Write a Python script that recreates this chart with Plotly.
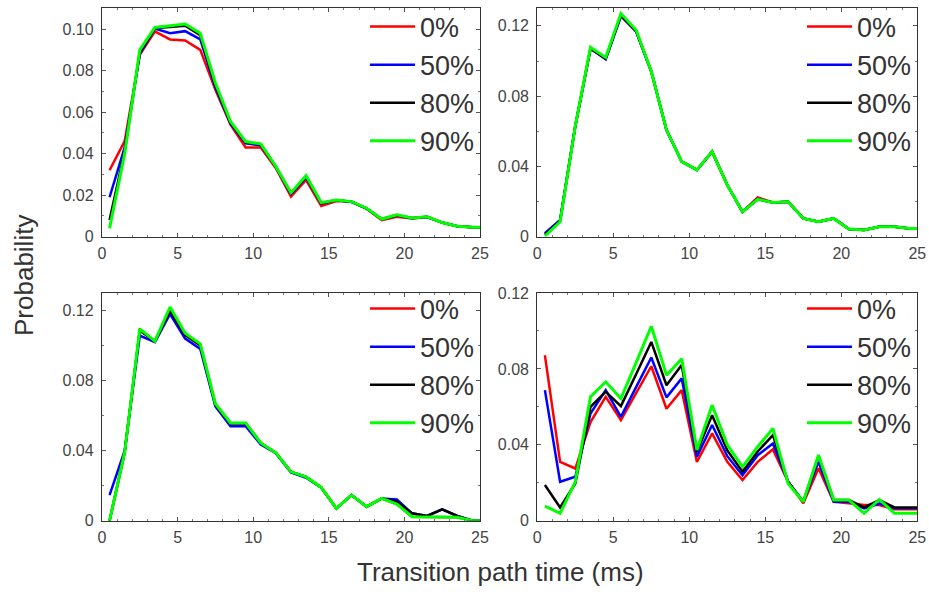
import plotly.graph_objects as go

# ---- data ----
time_ms = [0.5, 1.5, 2.5, 3.5, 4.5, 5.5, 6.5, 7.5, 8.5, 9.5, 10.5, 11.5, 12.5,
           13.5, 14.5, 15.5, 16.5, 17.5, 18.5, 19.5, 20.5, 21.5, 22.5, 23.5, 24.5, 25.0]
series_names = ["0%", "50%", "80%", "90%"]
series_colors = ["#ff0000", "#0000ff", "#000000", "#00ff00"]

# top-left panel
tl_0 = [0.032, 0.046, 0.0876, 0.0989, 0.095, 0.0945, 0.090, 0.0707, 0.054, 0.043, 0.043, 0.033, 0.0193,
        0.0273, 0.0148, 0.0172, 0.0168, 0.0135, 0.008, 0.0096, 0.0088, 0.0095, 0.0068, 0.005, 0.0045, 0.0045]
tl_50 = [0.019, 0.043, 0.088, 0.1003, 0.098, 0.099, 0.095, 0.072, 0.0545, 0.045, 0.044, 0.0335, 0.0205,
         0.0285, 0.016, 0.0175, 0.0168, 0.0135, 0.0084, 0.0102, 0.0089, 0.0095, 0.0068, 0.005, 0.0045, 0.0045]
tl_80 = [0.008, 0.041, 0.089, 0.1005, 0.101, 0.1016, 0.097, 0.073, 0.055, 0.0455, 0.0445, 0.0337, 0.021,
         0.029, 0.0162, 0.0175, 0.0168, 0.0136, 0.0085, 0.0104, 0.009, 0.0096, 0.0068, 0.005, 0.0045, 0.0045]
tl_90 = [0.004, 0.040, 0.090, 0.1008, 0.1016, 0.1024, 0.098, 0.074, 0.0555, 0.0458, 0.0447, 0.0338, 0.0212,
         0.0294, 0.0164, 0.0177, 0.0169, 0.0137, 0.0085, 0.0105, 0.0090, 0.0096, 0.0068, 0.0050, 0.0045, 0.0045]

# top-right panel
tr_0 = [0.0015, 0.009, 0.063, 0.1072, 0.1012, 0.126, 0.117, 0.094, 0.0607, 0.0427, 0.038, 0.0484, 0.0294,
        0.0142, 0.0224, 0.0195, 0.0199, 0.0104, 0.0085, 0.0104, 0.0044, 0.0038, 0.0057, 0.0057, 0.0047, 0.0047]
tr_50 = [0.002, 0.0095, 0.063, 0.1072, 0.101, 0.1255, 0.1168, 0.094, 0.0607, 0.0427, 0.038, 0.0484, 0.0294,
         0.0142, 0.0215, 0.0195, 0.0199, 0.0104, 0.0085, 0.0104, 0.0044, 0.0038, 0.0057, 0.0057, 0.0047, 0.0047]
tr_80 = [0.001, 0.009, 0.063, 0.107, 0.1015, 0.126, 0.117, 0.094, 0.0607, 0.0427, 0.038, 0.0484, 0.0294,
         0.0142, 0.0213, 0.0195, 0.0199, 0.0104, 0.0085, 0.0104, 0.0044, 0.0038, 0.0057, 0.0057, 0.0047, 0.0047]
tr_90 = [0.0004, 0.0085, 0.063, 0.1078, 0.102, 0.127, 0.1176, 0.094, 0.0607, 0.0427, 0.038, 0.0484, 0.0294,
         0.0142, 0.0213, 0.0195, 0.0199, 0.0104, 0.0085, 0.0104, 0.0044, 0.0038, 0.0057, 0.0057, 0.0047, 0.0047]

# bottom-left panel
bl_0 = [0.0, 0.039, 0.109, 0.1025, 0.121, 0.1065, 0.1005, 0.0665, 0.0556, 0.0556, 0.0444, 0.0387, 0.0279,
        0.025, 0.019, 0.007, 0.0146, 0.008, 0.0127, 0.0095, 0.0023, 0.0023, 0.0023, 0.0019, 0.0, 0.0]
bl_50 = [0.0146, 0.040, 0.1057, 0.102, 0.118, 0.104, 0.098, 0.0653, 0.0539, 0.0539, 0.0435, 0.0385, 0.0275,
         0.0245, 0.0188, 0.007, 0.0146, 0.008, 0.0127, 0.0121, 0.0042, 0.0027, 0.0065, 0.0027, 0.0, 0.0]
bl_80 = [0.0, 0.039, 0.1085, 0.1025, 0.120, 0.106, 0.100, 0.066, 0.0555, 0.0555, 0.0444, 0.0387, 0.0279,
         0.025, 0.019, 0.007, 0.0146, 0.008, 0.0127, 0.0108, 0.0042, 0.0027, 0.0065, 0.0027, 0.0, 0.0]
bl_90 = [0.0, 0.039, 0.1095, 0.1025, 0.122, 0.107, 0.101, 0.0668, 0.0558, 0.0558, 0.0444, 0.0387, 0.0279,
         0.025, 0.019, 0.007, 0.0146, 0.008, 0.0127, 0.0095, 0.0023, 0.0023, 0.0023, 0.0019, 0.0, 0.0]

# bottom-right panel
br_0 = [0.0872, 0.031, 0.0275, 0.052, 0.0653, 0.053, 0.0672, 0.0814, 0.059, 0.0688, 0.031, 0.046, 0.031,
        0.0214, 0.031, 0.0376, 0.0205, 0.0092, 0.0276, 0.0100, 0.0092, 0.0083, 0.0083, 0.006, 0.006, 0.006]
br_50 = [0.0688, 0.0205, 0.0232, 0.0565, 0.0688, 0.0547, 0.0704, 0.086, 0.065, 0.075, 0.0337, 0.0504, 0.034,
         0.024, 0.0345, 0.0407, 0.0205, 0.010, 0.031, 0.0100, 0.0100, 0.0065, 0.009, 0.0065, 0.0065, 0.0065]
br_80 = [0.0188, 0.007, 0.0196, 0.060, 0.068, 0.0604, 0.0772, 0.0942, 0.0714, 0.082, 0.0363, 0.0556, 0.037,
         0.0258, 0.0365, 0.0451, 0.0205, 0.010, 0.034, 0.0109, 0.0109, 0.007, 0.0109, 0.007, 0.007, 0.007]
br_90 = [0.0077, 0.0039, 0.0205, 0.0653, 0.0732, 0.0644, 0.0833, 0.1025, 0.0767, 0.0854, 0.0372, 0.0609, 0.040,
         0.0284, 0.039, 0.0486, 0.0196, 0.010, 0.0346, 0.0109, 0.0109, 0.0039, 0.0112, 0.0039, 0.0039, 0.0039]

x_tickvals = [0, 5, 10, 15, 20, 25]
x_ticktext = ["0", "5", "10", "15", "20", "25"]
tl_yvals = [0, 0.02, 0.04, 0.06, 0.08, 0.10]
tl_ytext = ["0", "0.02", "0.04", "0.06", "0.08", "0.10"]
y12_vals = [0, 0.04, 0.08, 0.12]
y12_text = ["0", "0.04", "0.08", "0.12"]

panels = [
    dict(series=[tl_0, tl_50, tl_80, tl_90], yrange=[0, 0.11], yvals=tl_yvals, ytext=tl_ytext, ydminor=0.01),
    dict(series=[tr_0, tr_50, tr_80, tr_90], yrange=[0, 0.13], yvals=y12_vals, ytext=y12_text, ydminor=0.02),
    dict(series=[bl_0, bl_50, bl_80, bl_90], yrange=[0, 0.13], yvals=y12_vals, ytext=y12_text, ydminor=0.02),
    dict(series=[br_0, br_50, br_80, br_90], yrange=[0, 0.12], yvals=y12_vals, ytext=y12_text, ydminor=0.02),
]

W, H = 929, 592
x_doms = [[102 / W, 480 / W], [537.3 / W, 917.3 / W]]
y_doms = [[1 - 236.7 / H, 1 - 8.3 / H], [1 - 520.7 / H, 1 - 293 / H]]
legend_pos = [(365 / W, 1 - 2.5 / H), (802 / W, 1 - 2.5 / H), (365 / W, 1 - 284.5 / H), (802 / W, 1 - 284.5 / H)]

FONT = "Liberation Sans, Arial, sans-serif"
fig = go.Figure()
layout = dict(
    width=W, height=H, margin=dict(l=0, r=0, t=0, b=0),
    paper_bgcolor="white", plot_bgcolor="white",
    font=dict(family=FONT, color="#444"),
)

for i, p in enumerate(panels):
    n = i + 1
    suffix = "" if n == 1 else str(n)
    leg = "legend" if n == 1 else f"legend{n}"
    for name, color, vals in zip(series_names, series_colors, p["series"]):
        fig.add_trace(go.Scatter(
            x=time_ms, y=vals, mode="lines", name=name,
            line=dict(color=color, width=3 if color == "#00ff00" else 2.5),
            xaxis=f"x{suffix}", yaxis=f"y{suffix}", legend=leg,
        ))
    col = i % 2
    row = i // 2
    common = dict(
        showline=True, linecolor="#333", linewidth=1.3, mirror="ticks",
        ticks="inside", ticklen=4, tickcolor="#555", tickwidth=1,
        showgrid=False, zeroline=False, automargin=False,
        tickfont=dict(size=16, color="#444", family=FONT),
    )
    layout[f"xaxis{suffix}"] = dict(
        domain=x_doms[col], range=[0, 25], anchor=f"y{suffix}",
        tickmode="array", tickvals=x_tickvals, ticktext=x_ticktext,
        minor=dict(dtick=1, ticks="inside", ticklen=2, tickcolor="#777"),
        ticklabelstandoff=2, **common,
    )
    layout[f"yaxis{suffix}"] = dict(
        domain=y_doms[row], range=p["yrange"], anchor=f"x{suffix}",
        tickmode="array", tickvals=p["yvals"], ticktext=p["ytext"],
        minor=dict(dtick=p["ydminor"], ticks="inside", ticklen=2, tickcolor="#777"),
        ticklabelstandoff=4, **common,
    )
    lx, ly = legend_pos[i]
    layout[leg] = dict(
        x=lx, y=ly, xanchor="left", yanchor="top",
        bgcolor="rgba(0,0,0,0)", borderwidth=0, itemwidth=45,
        font=dict(size=27, color="#333", family=FONT),
        tracegroupgap=0,
    )

layout["annotations"] = [
    dict(text="Probability", x=24 / W, y=1 - 276 / H, xref="paper", yref="paper",
         showarrow=False, textangle=-90, font=dict(size=26, color="#333", family=FONT),
         xanchor="center", yanchor="middle"),
    dict(text="Transition path time (ms)", x=500 / W, y=1 - 572 / H, xref="paper", yref="paper",
         showarrow=False, font=dict(size=26, color="#333", family=FONT),
         xanchor="center", yanchor="middle"),
]

fig.update_layout(**layout)
fig.write_html("out.html")
